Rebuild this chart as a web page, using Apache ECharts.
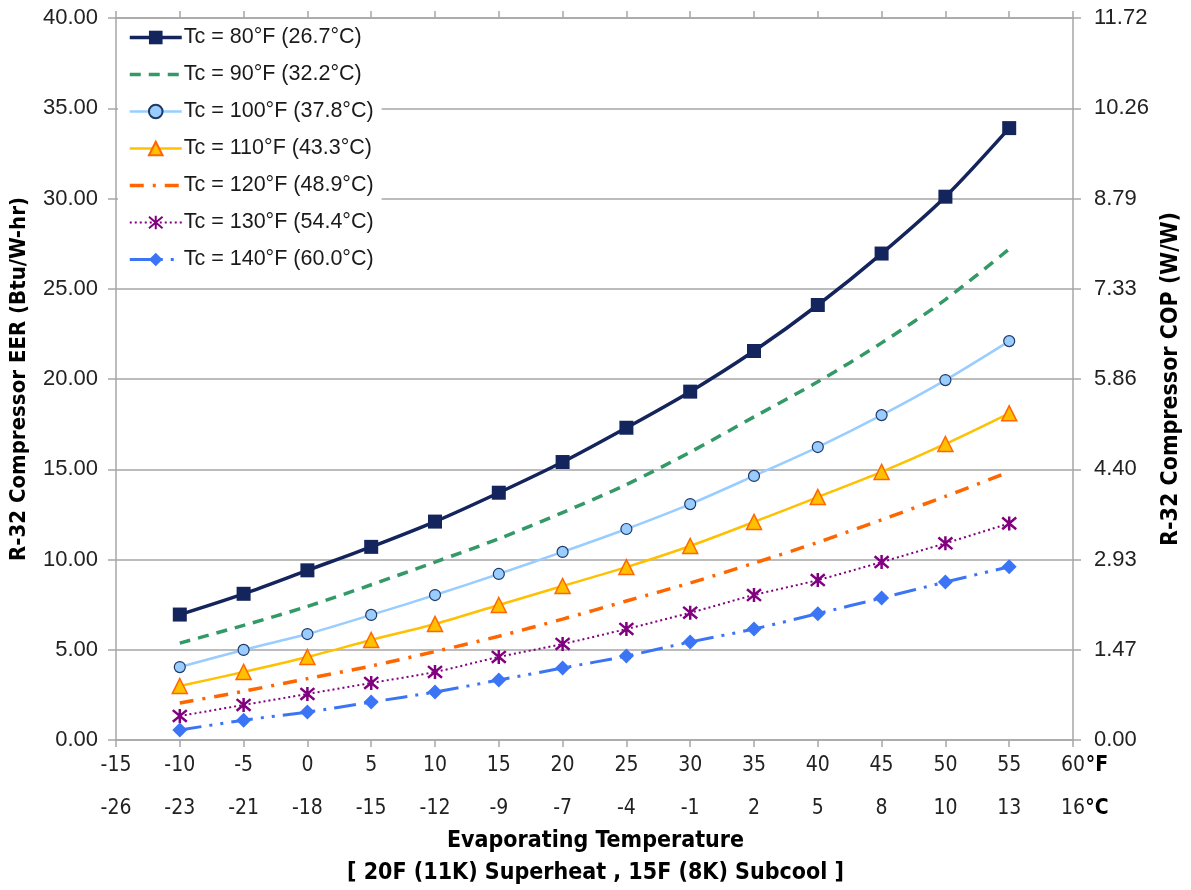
<!DOCTYPE html>
<html>
<head>
<meta charset="UTF-8">
<title>R-32 Compressor EER</title>
<script src="https://cdn.jsdelivr.net/npm/echarts@6/dist/echarts.min.js"></script>
<style>
  body { margin: 0; background: #fff; }
  #chartmain { width: 1191px; height: 890px; }
</style>
</head>
<body>
<div id="chartmain"></div>
<script>
// evaporating temperature, °F
var tempF = [-10, -5, 0, 5, 10, 15, 20, 25, 30, 35, 40, 45, 50, 55];

// EER (Btu/W-hr) per condensing temperature
var eer80  = [6.95, 8.1, 9.4, 10.7, 12.1, 13.7, 15.4, 17.3, 19.3, 21.55, 24.1, 26.95, 30.1, 33.9];
var eer90  = [5.37, 6.35, 7.4, 8.6, 9.86, 11.15, 12.6, 14.15, 15.95, 17.9, 19.85, 22.0, 24.4, 27.2];
var eer100 = [4.04, 4.99, 5.87, 6.93, 8.03, 9.2, 10.42, 11.69, 13.07, 14.63, 16.23, 18.0, 19.94, 22.1];
var eer110 = [2.99, 3.77, 4.6, 5.54, 6.43, 7.48, 8.53, 9.58, 10.75, 12.08, 13.46, 14.85, 16.4, 18.1];
var eer120 = [2.05, 2.7, 3.4, 4.1, 4.9, 5.75, 6.7, 7.7, 8.7, 9.8, 10.95, 12.2, 13.5, 14.85];
var eer130 = [1.33, 1.94, 2.55, 3.16, 3.77, 4.6, 5.32, 6.15, 7.05, 8.03, 8.86, 9.86, 10.9, 12.0];
var eer140 = [0.55, 1.1, 1.55, 2.1, 2.66, 3.32, 3.99, 4.65, 5.43, 6.15, 7.0, 7.87, 8.75, 9.6];

var seriesNames = ['Tc = 80°F (26.7°C)', 'Tc = 90°F (32.2°C)', 'Tc = 100°F (37.8°C)', 'Tc = 110°F (43.3°C)',
                   'Tc = 120°F (48.9°C)', 'Tc = 130°F (54.4°C)', 'Tc = 140°F (60.0°C)'];

// tick labels
var celsiusLabels = ['-26', '-23', '-21', '-18', '-15', '-12', '-9', '-7', '-4', '-1', '2', '5', '8', '10', '13', '16'];
var copLabels = ['0.00', '1.47', '2.93', '4.40', '5.86', '7.33', '8.79', '10.26', '11.72'];

var NARROW = '"Liberation Sans Narrow", "DejaVu Sans Condensed", "Liberation Sans", Arial, sans-serif';
var SANS = '"Liberation Sans", Arial, sans-serif';
var AXIS_GRAY = '#a6a6a6';

function pairs(ys) {
    var out = [];
    for (var i = 0; i < tempF.length; i++) out.push([tempF[i], ys[i]]);
    return out;
}

// last tick gets the unit after it, the pad keeps the number centred on the tick
function unitLabel(text, unit, isLast) {
    return isLast ? '{pad|}' + text + '{u|' + unit + '}' : text;
}
var unitRich = {
    pad: { width: 24 },
    u: { width: 24, align: 'left', fontFamily: NARROW, fontSize: 21, fontWeight: 'bold', color: '#000' }
};

var asterisk = 'path://M0,0L10,10M10,0L0,10M5,-1L5,11';

var mychart = echarts.init(document.getElementById('chartmain'));
var option = {
    animation: false,
    backgroundColor: '#fff',
    title: {
        text: 'Evaporating Temperature\n[ 20F (11K) Superheat , 15F (8K) Subcool ]',
        left: 'center',
        top: 820,
        textStyle: { fontFamily: NARROW, fontSize: 23, fontWeight: 'bold', color: '#000', lineHeight: 32, align: 'center' }
    },
    legend: {
        orient: 'vertical',
        left: 118,
        top: 20,
        padding: [6, 8, 8, 10],
        backgroundColor: '#fff',
        itemWidth: 52,
        itemHeight: 17,
        itemGap: 14,
        lineStyle: { width: 'inherit' },
        textStyle: { fontFamily: SANS, fontSize: 21.5, color: '#1a1a1a', lineHeight: 23, padding: [0, 0, 0, -3] },
        data: [
            { name: seriesNames[0] },
            { name: seriesNames[1], itemStyle: { opacity: 0 } },
            { name: seriesNames[2] },
            { name: seriesNames[3] },
            { name: seriesNames[4], itemStyle: { opacity: 0 } },
            { name: seriesNames[5] },
            { name: seriesNames[6] }
        ]
    },
    grid: { left: 116, right: 117, top: 18, bottom: 150 },
    xAxis: [
        {
            type: 'value', position: 'bottom', min: -15, max: 60, interval: 5,
            axisLine: { show: true, onZero: false, lineStyle: { color: AXIS_GRAY, width: 1.5 } },
            axisTick: { show: true, length: 7, lineStyle: { color: AXIS_GRAY, width: 1.5 } },
            axisLabel: {
                fontFamily: NARROW, fontSize: 21, color: '#222', margin: 15, rich: unitRich,
                formatter: function (v) { return unitLabel(String(v), '°F', v === 60); }
            },
            splitLine: { show: false }
        },
        {
            type: 'value', position: 'bottom', offset: 43, min: -15, max: 60, interval: 5,
            axisLine: { show: false, onZero: false }, axisTick: { show: false },
            axisLabel: {
                fontFamily: NARROW, fontSize: 21, color: '#222', margin: 15, rich: unitRich,
                formatter: function (v) {
                    var i = Math.round((v + 15) / 5);
                    return unitLabel(celsiusLabels[i], '°C', i === celsiusLabels.length - 1);
                }
            },
            splitLine: { show: false }
        },
        {
            type: 'value', position: 'top', min: -15, max: 60, interval: 5,
            axisLine: { show: true, onZero: false, lineStyle: { color: AXIS_GRAY, width: 1.5 } },
            axisTick: { show: true, length: 7, lineStyle: { color: AXIS_GRAY, width: 1.5 } },
            axisLabel: { show: false },
            splitLine: { show: false }
        }
    ],
    yAxis: [
        {
            type: 'value', position: 'left', min: 0, max: 40, interval: 5,
            axisLine: { show: true, onZero: false, lineStyle: { color: AXIS_GRAY, width: 1.5 } },
            axisTick: { show: true, length: 8, lineStyle: { color: AXIS_GRAY, width: 1.5 } },
            axisLabel: { fontFamily: SANS, fontSize: 22, color: '#222', margin: 18, formatter: function (v) { return v.toFixed(2); } },
            splitLine: { show: true, lineStyle: { color: AXIS_GRAY, width: 1.5 } },
            name: 'R-32 Compressor EER (Btu/W-hr)', nameLocation: 'middle', nameGap: 86, nameRotate: 90,
            nameTextStyle: { fontFamily: NARROW, fontSize: 22, fontWeight: 'bold', color: '#000' }
        },
        {
            type: 'value', position: 'right', min: 0, max: 8, interval: 1,
            axisLine: { show: true, onZero: false, lineStyle: { color: AXIS_GRAY, width: 1.5 } },
            axisTick: { show: true, length: 8, lineStyle: { color: AXIS_GRAY, width: 1.5 } },
            axisLabel: { fontFamily: SANS, fontSize: 22, color: '#222', margin: 21, formatter: function (v) { return copLabels[v]; } },
            splitLine: { show: false },
            name: 'R-32 Compressor COP (W/W)', nameLocation: 'middle', nameGap: 87, nameRotate: 90,
            nameTextStyle: { fontFamily: NARROW, fontSize: 23, fontWeight: 'bold', color: '#000' }
        }
    ],
    series: [
        {
            name: seriesNames[0], type: 'line', smooth: 0.3, data: pairs(eer80),
            symbol: 'rect', symbolSize: 14,
            lineStyle: { color: '#14245c', width: 3.5 },
            itemStyle: { color: '#14245c' }
        },
        {
            name: seriesNames[1], type: 'line', smooth: 0.3, data: pairs(eer90),
            symbol: 'none',
            lineStyle: { color: '#339966', width: 3.5, type: [11, 8] },
            itemStyle: { color: '#339966' }
        },
        {
            name: seriesNames[2], type: 'line', smooth: 0.3, data: pairs(eer100),
            symbol: 'circle', symbolSize: 11,
            lineStyle: { color: '#99ccff', width: 2.5 },
            itemStyle: { color: '#99ccff', borderColor: '#1f3864', borderWidth: 1.2 }
        },
        {
            name: seriesNames[3], type: 'line', smooth: 0.3, data: pairs(eer110),
            symbol: 'triangle', symbolSize: 15,
            lineStyle: { color: '#ffc000', width: 2.5 },
            itemStyle: { color: '#ffc000', borderColor: '#ff6600', borderWidth: 1.5 }
        },
        {
            name: seriesNames[4], type: 'line', smooth: 0.3, data: pairs(eer120),
            symbol: 'none',
            lineStyle: { color: '#ff6600', width: 3.5, type: [14, 9, 3, 9] },
            itemStyle: { color: '#ff6600' }
        },
        {
            name: seriesNames[5], type: 'line', smooth: 0.3, data: pairs(eer130),
            symbol: asterisk, symbolSize: 14,
            lineStyle: { color: '#800080', width: 2, type: [2, 3] },
            itemStyle: { color: '#800080', borderColor: '#800080', borderWidth: 2.5 }
        },
        {
            name: seriesNames[6], type: 'line', smooth: 0.3, data: pairs(eer140),
            symbol: 'diamond', symbolSize: 15,
            lineStyle: { color: '#3b75f5', width: 3, type: [22, 8, 3, 8, 3, 8] },
            itemStyle: { color: '#3b75f5' }
        }
    ]
};
mychart.setOption(option);
</script>
</body>
</html>
